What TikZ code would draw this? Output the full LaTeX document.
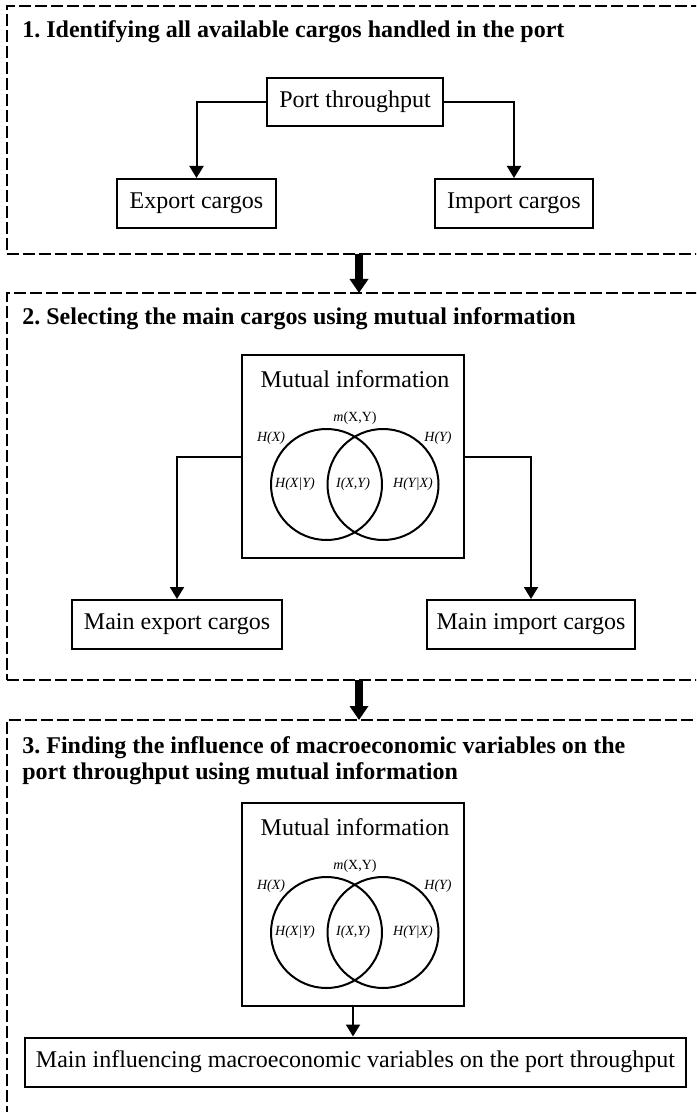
\documentclass[tikz,border=0pt]{standalone}
\usepackage{fontspec}
\setmainfont{Liberation Serif}
\frenchspacing
\usetikzlibrary{arrows.meta,positioning}
\tikzset{
  stage/.style={draw, line width=0.75pt, dash pattern=on 6pt off 2pt, outer sep=0pt, anchor=north west, minimum width=360pt},
  box/.style={draw, line width=1pt, inner sep=0pt, minimum height=24.5pt, font=\fontsize{12pt}{14pt}\selectfont},
  head/.style={anchor=base west, inner sep=0pt, font=\bfseries\fontsize{12pt}{13pt}\selectfont},
  lab/.style={inner sep=0pt, font=\itshape\fontsize{7pt}{8pt}\selectfont},
  link/.style={line width=1pt, -{Triangle[length=6pt,width=7pt]}},
  bigarrow/.style={line width=4pt, -{Triangle[length=7pt,width=9pt]}}
}
\begin{document}
\begin{tikzpicture}[x=0.5pt, y=-0.5pt]
\useasboundingbox (0,0) rectangle (696,1112);
\clip (0,0) rectangle (696,1112);
\node[stage, minimum height=124pt] (s1) at (7,6) {};
\node[stage, minimum height=193.5pt] (s2) at (7,293) {};
\node[stage, minimum height=215pt] (s3) at (7,720) {};
\coordinate (mid) at (359,0);
\node[head] (h1) at (22,38) {1. Identifying all available cargos handled in the port};
\node[head] (h2) at (22,325) {2. Selecting the main cargos using mutual information};
\node[head, align=left, anchor=north west] (h3) at (22,736) {3. Finding the influence of macroeconomic variables on the\\port throughput using mutual information};
\node[box, minimum width=88pt, minimum height=24pt] (port) at (355,102) {Port throughput};
\node[box, minimum width=79.5pt] (exp) at (196.5,203.5) {Export cargos};
\node[box, minimum width=79pt] (imp) at (514,203.5) {Import cargos};
\draw[link] (port.west) -| (exp.north);
\draw[link] (port.east) -| (imp.north);
\foreach \dy/\nm in {0/mia,448/mib} {
  \node[box, minimum width=111pt, minimum height=101.5pt] (\nm) at (353,456.5+\dy) {};
  \node[anchor=base, inner sep=0pt, font=\fontsize{12pt}{14pt}\selectfont] (\nm t) at (355,387+\dy) {Mutual information};
  \draw[line width=1pt] (326.5,484.5+\dy) circle [radius=55.5] (383,484.5+\dy) circle [radius=55.5];
  \node[lab] (\nm m) at (355,418+\dy) {m\upshape(X,Y)};
  \node[lab] (\nm hx) at (271,438+\dy) {H(X)};
  \node[lab] (\nm hy) at (438,438+\dy) {H(Y)};
  \node[lab] (\nm hxy) at (295,484+\dy) {H(X|Y)};
  \node[lab] (\nm i) at (353,484+\dy) {I(X,Y)};
  \node[lab] (\nm hyx) at (413,484+\dy) {H(Y|X)};
}
\node[box, minimum width=105pt] (mexp) at (177,624.5) {Main export cargos};
\node[box, minimum width=104pt] (mimp) at (531,624.5) {Main import cargos};
\draw[link] (mia.west) -| (mexp.north);
\draw[link] (mia.east) -| (mimp.north);
\node[box, minimum width=330.5pt] (res) at (355.5,1062) {Main influencing macroeconomic variables on the port throughput};
\draw[link] (mib.south) -- (mib.south |- res.north);
\draw[bigarrow] (s1.south -| mid) -- (s2.north -| mid);
\draw[bigarrow] (s2.south -| mid) -- (s3.north -| mid);
\end{tikzpicture}
\end{document}
